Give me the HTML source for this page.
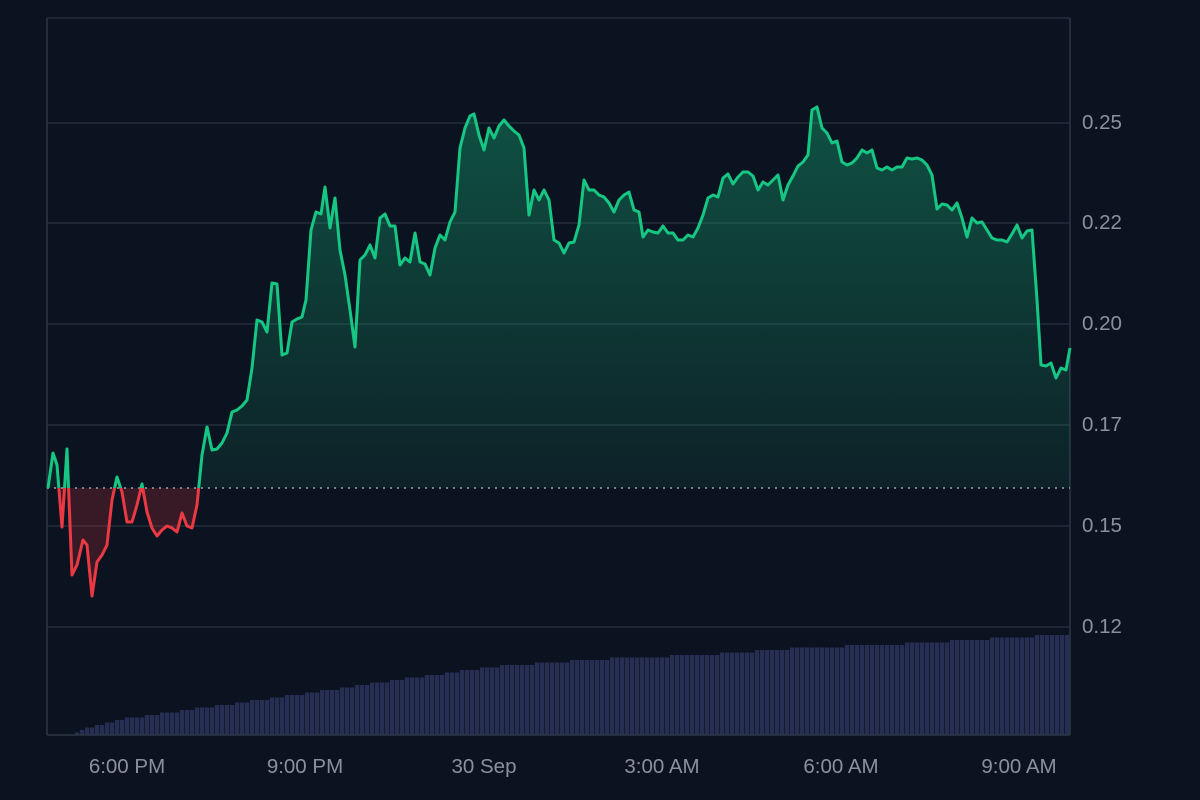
<!DOCTYPE html>
<html><head><meta charset="utf-8"><style>
html,body{margin:0;padding:0;background:#0c1320;}
svg{display:block}
text{font-family:"Liberation Sans",sans-serif;font-size:20.5px;fill:#8a919c}
</style></head><body>
<svg id="s" width="1200" height="800" xmlns="http://www.w3.org/2000/svg">
<defs>
<linearGradient id="g" x1="0" y1="100" x2="0" y2="488" gradientUnits="userSpaceOnUse">
<stop offset="0" stop-color="#16c784" stop-opacity="0.35"/><stop offset="1" stop-color="#16c784" stop-opacity="0.08"/></linearGradient>
<clipPath id="up"><rect x="0" y="0" width="1200" height="488"/></clipPath>
<clipPath id="dn"><rect x="0" y="488" width="1200" height="312"/></clipPath>
</defs>
<rect width="1200" height="800" fill="#0c1320"/>
<g stroke="#263140" stroke-width="1.3">
<line x1="47" y1="123" x2="1070" y2="123"/><line x1="47" y1="223" x2="1070" y2="223"/>
<line x1="47" y1="324" x2="1070" y2="324"/><line x1="47" y1="425" x2="1070" y2="425"/>
<line x1="47" y1="526" x2="1070" y2="526"/><line x1="47" y1="627" x2="1070" y2="627"/>
<line x1="47" y1="18" x2="1070" y2="18"/>
</g>
<g id="bars" fill="#262f53"></g>
<g stroke="#2c3644" stroke-width="1.5" fill="none">
<line x1="47" y1="18" x2="47" y2="735"/><line x1="1070" y1="18" x2="1070" y2="735"/>
<line x1="47" y1="735" x2="1070" y2="735"/></g>
<path id="fu" clip-path="url(#up)" fill="url(#g)"/>
<path id="fd" clip-path="url(#dn)" fill="#ea3943" fill-opacity="0.2"/>
<line x1="47" y1="488" x2="1070" y2="488" stroke="#9aa3ad" stroke-width="1.5" stroke-dasharray="2,5"/>
<path id="lu" clip-path="url(#up)" fill="none" stroke="#16c784" stroke-width="3" stroke-linejoin="round"/>
<path id="ld" clip-path="url(#dn)" fill="none" stroke="#ea3943" stroke-width="3" stroke-linejoin="round"/>
<text x="1082" y="129">0.25</text><text x="1082" y="229">0.22</text><text x="1082" y="330">0.20</text>
<text x="1082" y="431">0.17</text><text x="1082" y="532">0.15</text><text x="1082" y="633">0.12</text>
<g text-anchor="middle"><text x="127" y="773">6:00 PM</text><text x="305" y="773">9:00 PM</text>
<text x="484" y="773">30 Sep</text><text x="662" y="773">3:00 AM</text><text x="841" y="773">6:00 AM</text><text x="1019" y="773">9:00 AM</text></g>
</svg>
<script>
var p=[48,488,53,453,57,465,62,527,67,449,72,575,77,565,83,540,87,545,92,596,97,562,102,555,107,545,112,500,117,477,122,492,127,522,132,522,137,505,142,484,147,512,152,528,157,536,162,530,167,526,172,528,177,532,182,513,187,526,192,528,197,505,202,455,207,427,212,450,217,449,222,443,227,433,232,412,237,410,242,406,247,400,252,368,257,320,262,322,267,332,272,283,277,284,282,355,287,353,292,322,297,319,302,317,306,300,311,230,316,212,321,214,325,187,330,228,335,198,340,250,345,275,350,310,355,347,360,260,365,255,370,245,375,258,380,218,385,214,390,226,395,226,400,265,405,258,410,262,415,233,420,262,425,264,430,275,435,248,440,235,445,240,450,222,455,212,460,148,465,128,470,116,474,114,479,135,484,150,489,128,494,138,499,126,504,120,509,126,514,131,519,135,524,148,529,215,534,190,539,200,544,190,549,200,554,240,559,243,564,253,569,243,574,242,579,225,584,180,589,190,594,190,599,195,604,197,609,203,614,212,619,200,624,195,629,192,634,210,639,212,643,237,648,230,653,232,658,233,663,226,668,233,673,233,678,240,683,240,688,235,693,237,698,228,703,215,708,198,713,195,718,197,723,178,728,174,733,184,738,177,743,172,748,172,753,176,758,190,763,182,768,185,773,180,778,175,783,200,788,185,793,176,798,166,803,162,808,155,812,110,817,107,822,128,827,133,832,143,837,141,842,162,847,165,852,163,857,158,862,150,867,153,872,150,877,168,882,170,887,167,892,170,897,167,902,167,907,158,912,159,917,158,922,160,927,165,932,175,937,209,942,204,947,205,952,210,957,203,962,218,967,237,972,218,977,223,982,222,987,230,992,238,997,240,1002,240,1007,242,1012,234,1017,225,1022,238,1027,231,1032,230,1037,300,1041,365,1046,366,1051,363,1056,378,1061,368,1066,370,1070,348];
var d="M"+p[0]+","+p[1];for(var i=2;i<p.length;i+=2)d+=" L"+p[i]+","+p[i+1];
["lu","ld"].forEach(function(id){document.getElementById(id).setAttribute("d",d)});
var f=d+" L1070,488 L48,488 Z";
["fu","fd"].forEach(function(id){document.getElementById(id).setAttribute("d",f)});
var k=[[70,735],[80,729],[120,719],[200,708],[300,694],[400,679],[500,666],[600,659],[700,655],[800,648],[900,644],[1000,638],[1070,634]];
function hy(x){for(var j=0;j<k.length-1;j++){if(x<=k[j+1][0]){var t=(x-k[j][0])/(k[j+1][0]-k[j][0]);return k[j][1]+t*(k[j+1][1]-k[j][1]);}}return 634;}
var g=document.getElementById("bars"),s="";
for(var x=70;x<1070;x+=5){var y=Math.round(hy(x)/2.5)*2.5;if(y>=734)continue;s+='<rect x="'+x+'" y="'+y+'" width="4.3" height="'+(735-y)+'"/>';}
g.innerHTML=s;
</script>
</body></html>
